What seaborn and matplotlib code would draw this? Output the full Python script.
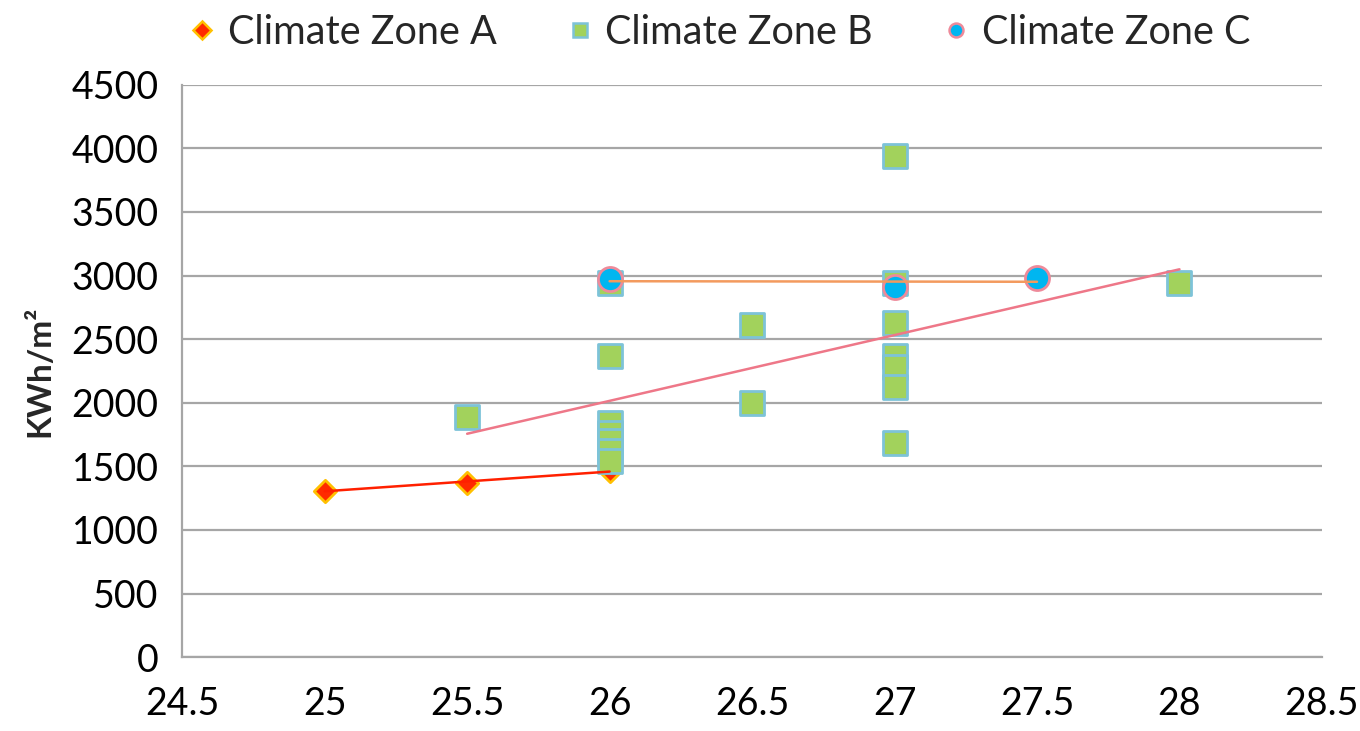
import numpy as np
import pandas as pd
import matplotlib
matplotlib.use("Agg")
import matplotlib.pyplot as plt
import seaborn as sns

# Indoor set-point temperature (°C) vs. annual energy use (kWh/m²) per climate zone
zone_a_temp = [25.0, 25.5, 26.0]
zone_a_energy = [1310, 1370, 1465]

zone_b_temp = [25.5,
               26.0, 26.0, 26.0, 26.0, 26.0, 26.0, 26.0,
               26.5, 26.5,
               27.0, 27.0, 27.0, 27.0, 27.0, 27.0, 27.0,
               28.0]
zone_b_energy = [1885,
                 2945, 2370, 1840, 1760, 1700, 1620, 1540,
                 2615, 2000,
                 3940, 2945, 2625, 2365, 2280, 2125, 1685,
                 2945]

zone_c_temp = [26.0, 27.0, 27.5]
zone_c_energy = [2970, 2910, 2980]

zone_names = ["Climate Zone A", "Climate Zone B", "Climate Zone C"]
x_ticks = [24.5, 25, 25.5, 26, 26.5, 27, 27.5, 28, 28.5]
y_ticks = [0, 500, 1000, 1500, 2000, 2500, 3000, 3500, 4000, 4500]

df = pd.concat([
    pd.DataFrame({"zone": zone_names[0], "temp": zone_a_temp, "energy": zone_a_energy}),
    pd.DataFrame({"zone": zone_names[1], "temp": zone_b_temp, "energy": zone_b_energy}),
    pd.DataFrame({"zone": zone_names[2], "temp": zone_c_temp, "energy": zone_c_energy}),
], ignore_index=True)

sns.set_theme(style="white")
plt.rcParams["font.family"] = ["Lato", "DejaVu Sans"]

styles = {
    zone_names[0]: dict(marker="D", face="#FF2A00", edge="#FFC000", size=130, line="#FF2000"),
    zone_names[1]: dict(marker="s", face="#A2D25C", edge="#7DC3D8", size=300, line="#EE7788"),
    zone_names[2]: dict(marker="o", face="#00B6F0", edge="#EE8A9A", size=300, line="#F39A5E"),
}

fig = plt.figure(figsize=(13.6, 7.31), dpi=100)
ax = fig.add_axes([0.134, 0.101, 0.838, 0.783])

for name in zone_names:
    st = styles[name]
    sub = df[df["zone"] == name]
    sns.scatterplot(data=sub, x="temp", y="energy", ax=ax, marker=st["marker"],
                    s=st["size"], color=st["face"], edgecolor=st["edge"],
                    linewidth=2, zorder=3, label=name, legend=False)

# Linear trend lines for each zone
for name in zone_names:
    st = styles[name]
    sub = df[df["zone"] == name]
    slope, icpt = np.polyfit(sub["temp"], sub["energy"], 1)
    xs = np.array([sub["temp"].min(), sub["temp"].max()])
    trend = pd.DataFrame({"temp": xs, "energy": slope * xs + icpt})
    sns.lineplot(data=trend, x="temp", y="energy", ax=ax, color=st["line"],
                 linewidth=1.8, zorder=4, legend=False)

ax.set_xlim(24.5, 28.5)
ax.set_ylim(0, 4500)
ax.set_xticks(x_ticks)
ax.set_xticklabels([f"{t:g}" for t in x_ticks])
ax.set_yticks(y_ticks)
ax.set_yticklabels([str(t) for t in y_ticks])
ax.yaxis.grid(True, color="#A6A6A6", linewidth=1.6)
ax.xaxis.grid(False)
ax.set_axisbelow(True)

for side in ["top", "right"]:
    ax.spines[side].set_visible(False)
for side in ["left", "bottom"]:
    ax.spines[side].set_color("#A6A6A6")
    ax.spines[side].set_linewidth(1.6)

ax.tick_params(axis="both", which="major", direction="out", length=9, width=1.6,
               color="#A6A6A6", labelsize=27, labelcolor="black", pad=8)
ax.tick_params(axis="x", pad=12)

ax.set_xlabel("")
ax.set_ylabel("KWh/m²", fontsize=24, fontweight="bold", labelpad=12)

handles = []
for name in zone_names:
    st = styles[name]
    handles.append(plt.Line2D([], [], linestyle="none", marker=st["marker"],
                              markersize=10 if st["marker"] != "D" else 9,
                              markerfacecolor=st["face"], markeredgecolor=st["edge"],
                              markeredgewidth=1.8, label=name))
fig.legend(handles=handles, loc="upper center", bbox_to_anchor=(0.528, 1.03),
           ncol=3, frameon=False, fontsize=28.5, handletextpad=0.25,
           columnspacing=1.7, handlelength=0.8)

fig.savefig("out.png", dpi=100, facecolor="white")
